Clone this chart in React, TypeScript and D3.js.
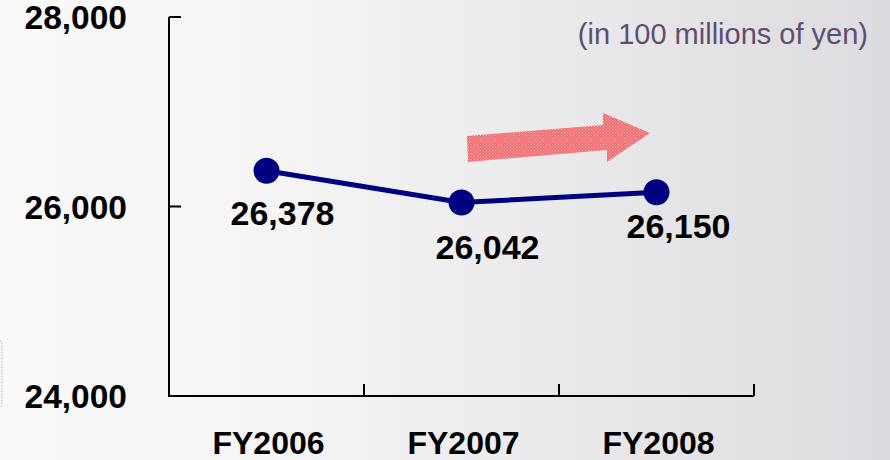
import React from "react";
import * as d3 from "d3";

const categories = ["FY2006", "FY2007", "FY2008"];
const values = [26378, 26042, 26150];
const yTicks = [24000, 26000, 28000];
const unitLabel = "(in 100 millions of yen)";

const W = 890;
const H = 460;
const left = 169;
const right = 754;
const top = 17;
const bottom = 396;

export default function App() {
  const x = d3.scaleBand<string>().domain(categories).range([left, right]).padding(0);
  const y = d3.scaleLinear().domain([24000, 28000]).range([bottom, top]);
  const fmt = d3.format(",");
  const cx = (c: string) => (x(c) as number) + x.bandwidth() / 2;
  const line = d3
    .line<number>()
    .x((_, i) => cx(categories[i]))
    .y((d) => y(d));
  const labelDx = [16, 26, 22];
  const labelDy = [54, 56, 46];
  const font = "'Liberation Sans', Arial, Helvetica, sans-serif";
  const bandEdges = categories.map((c) => (x(c) as number) + x.bandwidth());

  return (
    <svg
      width={W}
      height={H}
      style={{ position: "absolute", left: 0, top: 0, display: "block" }}
      fontFamily={font}
    >
      <defs>
        <linearGradient id="bg" x1="0" x2="1" y1="0" y2="0">
          <stop offset="0" stopColor="#fafafa" />
          <stop offset="0.3" stopColor="#f5f5f6" />
          <stop offset="0.6" stopColor="#ebebed" />
          <stop offset="1" stopColor="#dcdce0" />
        </linearGradient>
        <pattern id="hatch" width="3" height="3" patternUnits="userSpaceOnUse">
          <rect width="3" height="3" fill="#f26a6e" />
          <rect x="0" y="0" width="1" height="1" fill="#fbc2c2" />
          <rect x="1.5" y="1.5" width="1" height="1" fill="#fbc2c2" />
        </pattern>
      </defs>
      <rect width={W} height={H} fill="url(#bg)" />
      <rect x={-10} y={340} width={12} height={68} rx={4} fill="none" stroke="#999" strokeWidth={0.8} strokeDasharray="1.5,1.5" />

      {/* axes */}
      <path
        d={`M${left},${top} V${bottom} H${right}`}
        fill="none"
        stroke="#000"
        strokeWidth={2}
      />
      {yTicks.slice(1).map((t) => (
        <line key={t} x1={left} x2={left + 12} y1={y(t)} y2={y(t)} stroke="#000" strokeWidth={2} />
      ))}
      {bandEdges.map((e, i) => (
        <line key={i} x1={e} x2={e} y1={bottom} y2={bottom - 12} stroke="#000" strokeWidth={2} />
      ))}
      {yTicks.map((t) => (
        <text
          key={t}
          x={127}
          y={y(t)}
          dy="0.36em"
          textAnchor="end"
          fontSize={33.5}
          fontWeight="bold"
          fill="#000"
        >
          {fmt(t)}
        </text>
      ))}
      {categories.map((c) => (
        <text
          key={c}
          x={cx(c) + 2}
          y={454}
          textAnchor="middle"
          fontSize={32}
          fontWeight="bold"
          fill="#000"
        >
          {c}
        </text>
      ))}

      {/* arrow */}
      <path
        d="M467,136 L603,125 L603,113 L650,133 L607,162 L607,150 L468,162 Z"
        fill="url(#hatch)"
      />

      {/* series */}
      <path d={line(values) || ""} fill="none" stroke="#000080" strokeWidth={5} />
      {values.map((v, i) => (
        <circle key={i} cx={cx(categories[i])} cy={y(v)} r={13} fill="#000080" />
      ))}
      {values.map((v, i) => (
        <text
          key={"l" + i}
          x={cx(categories[i]) + labelDx[i]}
          y={y(v) + labelDy[i]}
          textAnchor="middle"
          fontSize={34}
          fontWeight="bold"
          fill="#000"
        >
          {fmt(v)}
        </text>
      ))}

      <text x={868} y={44} textAnchor="end" fontSize={29} fill="#5e4e72">
        {unitLabel}
      </text>
    </svg>
  );
}
